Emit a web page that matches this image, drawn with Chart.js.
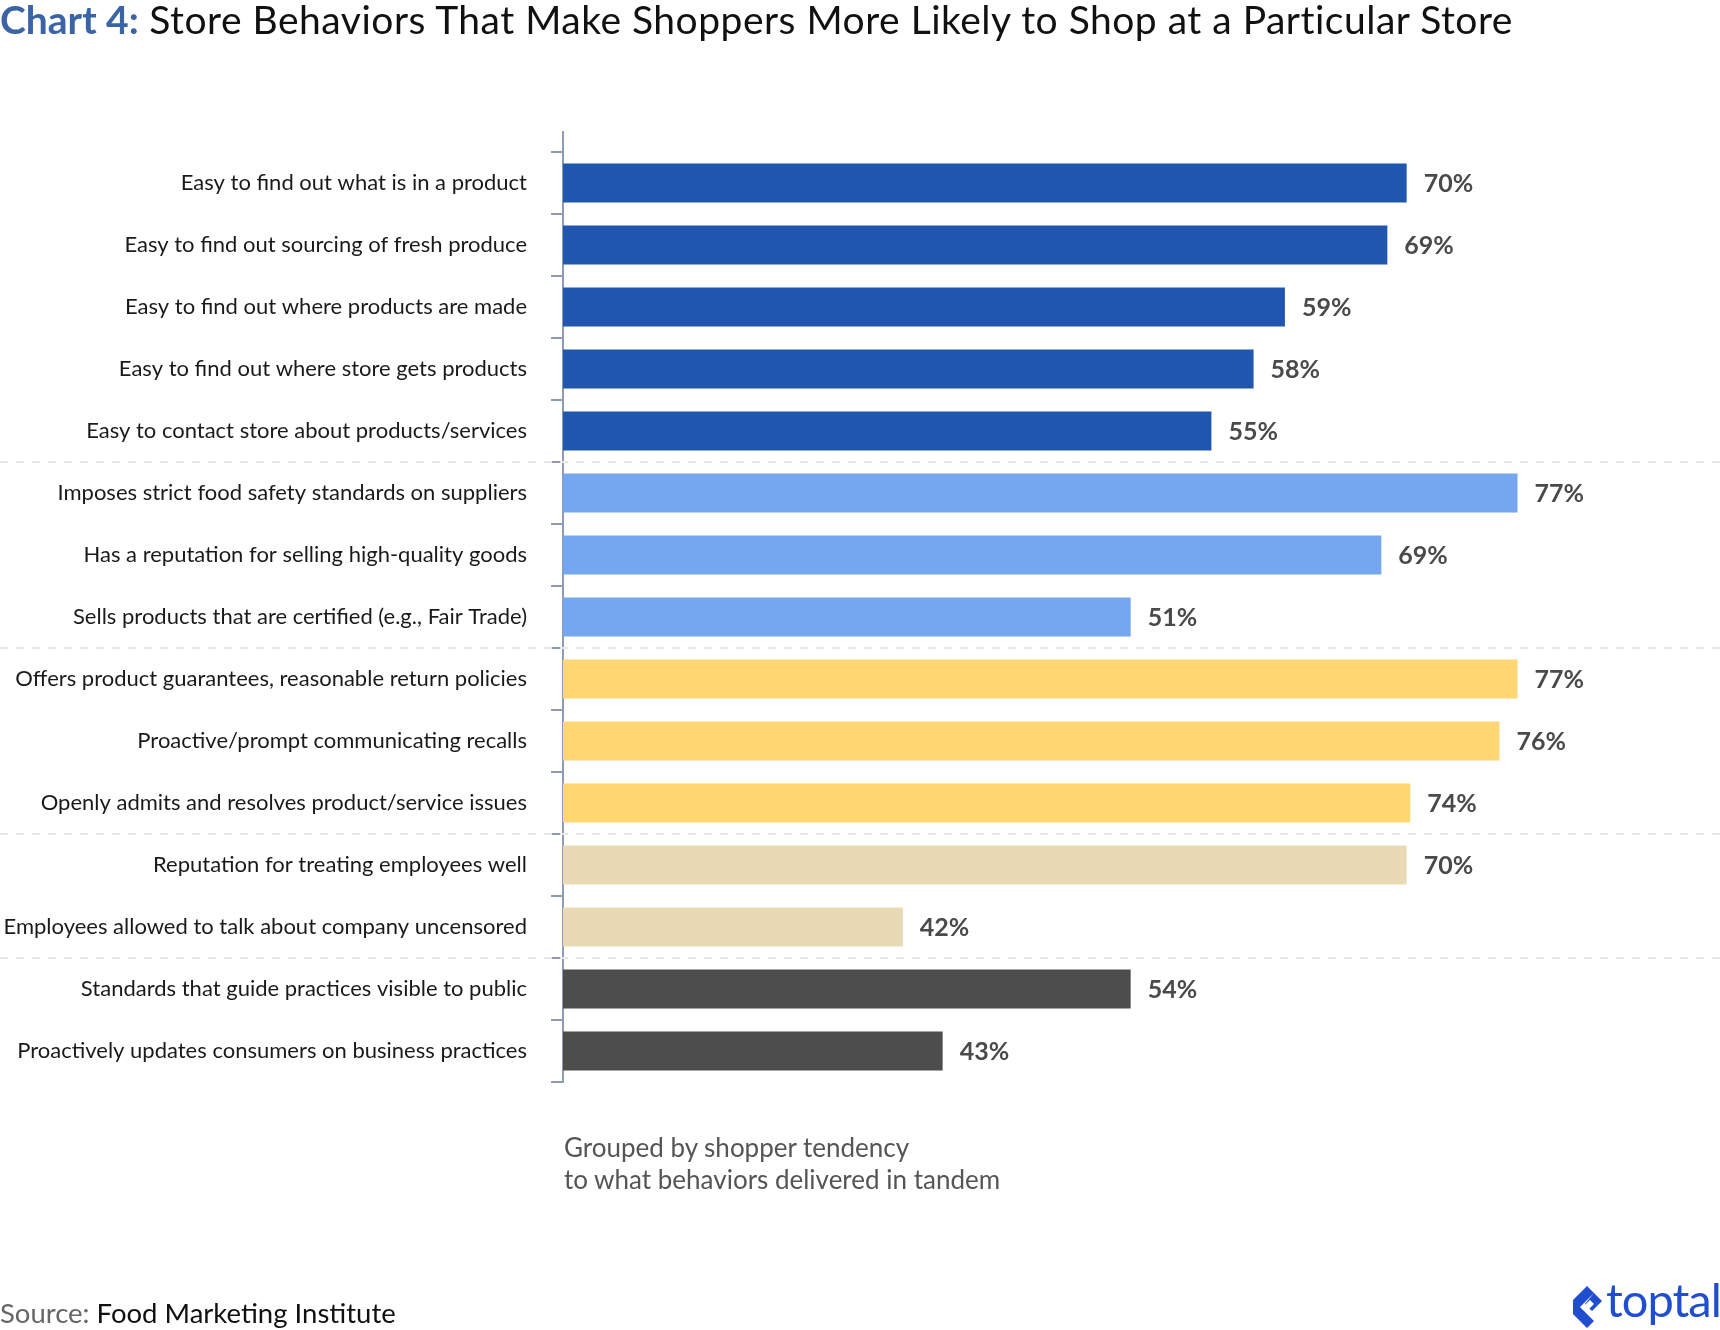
<!DOCTYPE html>
<html>
<head>
<meta charset="utf-8">
<script src="https://cdn.jsdelivr.net/npm/chart.js@4/dist/chart.umd.min.js"></script>
<style>
    body { margin: 0; background: #fff; }
    #page { position: relative; width: 1720px; height: 1330px; overflow: hidden; font-family: Lato, sans-serif; }
    #chart { position: absolute; left: 0; top: 0; }
    .title { position: absolute; left: 0; top: -3px; font-size: 39px; letter-spacing: 0.5px; color: #111; white-space: nowrap; line-height: 44px; }
    .title b { color: #3b64a6; letter-spacing: 0; }
    .note { position: absolute; left: 564px; top: 1131px; font-size: 26px; line-height: 32px; color: #555; }
    .source { position: absolute; left: 0; top: 1296px; font-size: 27.5px; color: #111; }
    .source span { color: #666; }
    .logo { position: absolute; left: 1572px; top: 1280px; height: 48px; color: #204ecf; font-size: 47px; }
    .logo svg { position: absolute; left: 0; top: 4px; }
    .logo div { position: absolute; left: 34px; top: -9px; letter-spacing: -1px; }
</style>
</head>
<body>
<div id="page">
    <canvas id="chart" width="1720" height="1330"></canvas>
    <div class="title"><b>Chart 4:</b> Store Behaviors That Make Shoppers More Likely to Shop at a Particular Store</div>
    <div class="note">Grouped by shopper tendency<br>to what behaviors delivered in tandem</div>
    <div class="source"><span>Source:</span> Food Marketing Institute</div>
    <div class="logo">
        <svg width="34" height="44" viewBox="0 0 34 44">
            <path d="M15 2 L22 9 L8 23 L22 37 L15 44 L1 30 L1 16 Z M22 9 L30 17 L20 27 L13 20 Z" fill="#204ecf"/>
            <path d="M11 23 L18 16 L22 20 L15 27 Z" fill="#fff"/>
        </svg>
        <div>toptal</div>
    </div>
</div>
<script>
// categories, top to bottom
const behaviors = [
    'Easy to find out what is in a product',
    'Easy to find out sourcing of fresh produce',
    'Easy to find out where products are made',
    'Easy to find out where store gets products',
    'Easy to contact store about products/services',
    'Imposes strict food safety standards on suppliers',
    'Has a reputation for selling high-quality goods',
    'Sells products that are certified (e.g., Fair Trade)',
    'Offers product guarantees, reasonable return policies',
    'Proactive/prompt communicating recalls',
    'Openly admits and resolves product/service issues',
    'Reputation for treating employees well',
    'Employees allowed to talk about company uncensored',
    'Standards that guide practices visible to public',
    'Proactively updates consumers on business practices'
];

// printed values
const shares = ['70%', '69%', '59%', '58%', '55%', '77%', '69%', '51%', '77%', '76%', '74%', '70%', '42%', '54%', '43%'];

// bar lengths as drawn in the source (its bars are not to scale), same units
const barLengths = [70, 68.4, 59.9, 57.3, 53.8, 79.2, 67.9, 47.1, 79.2, 77.7, 70.3, 70, 28.2, 47.1, 31.5];

// shopper tendency groups
const groupSizes = [5, 3, 3, 2, 2];
const groupColors = ['#2156b0', '#75a7f1', '#fed672', '#e9d9b5', '#4d4d4d'];

let barColors = [];
groupSizes.forEach((n, g) => {
    for (let i = 0; i < n; i++) barColors.push(groupColors[g]);
});

const axisColor = '#8e9bb3';

// dashed lines between the groups + axis line stub above the first row
const groupLines = {
    id: 'groupLines',
    beforeDatasetsDraw(chart) {
        const ctx = chart.ctx;
        const y = chart.scales.y;
        const area = chart.chartArea;
        ctx.save();
        ctx.strokeStyle = '#e6e6e6';
        ctx.lineWidth = 2;
        ctx.setLineDash([8, 8]);
        let idx = 0;
        groupSizes.slice(0, -1).forEach((n) => {
            idx += n;
            const py = Math.round((y.getPixelForValue(idx - 1) + y.getPixelForValue(idx)) / 2);
            ctx.beginPath();
            ctx.moveTo(0, py);
            ctx.lineTo(chart.width, py);
            ctx.stroke();
        });
        ctx.setLineDash([]);
        ctx.strokeStyle = axisColor;
        ctx.beginPath();
        ctx.moveTo(area.left, area.top - 21);
        ctx.lineTo(area.left, area.top);
        ctx.stroke();
        ctx.restore();
    }
};

// percentage labels right of the bars
const valueLabels = {
    id: 'valueLabels',
    afterDatasetsDraw(chart) {
        const ctx = chart.ctx;
        const meta = chart.getDatasetMeta(0);
        ctx.save();
        ctx.font = 'bold 25px Lato';
        ctx.fillStyle = '#4a4a4a';
        ctx.textBaseline = 'middle';
        meta.data.forEach((bar, i) => {
            ctx.fillText(shares[i], bar.x + 17, bar.y + 1);
        });
        ctx.restore();
    }
};

const config = {
    type: 'bar',
    data: {
        labels: behaviors,
        datasets: [{
            data: barLengths,
            backgroundColor: barColors,
            borderWidth: 0,
            categoryPercentage: 1,
            barPercentage: 0.63
        }]
    },
    options: {
        indexAxis: 'y',
        responsive: false,
        animation: false,
        layout: {
            padding: { top: 152, bottom: 248, left: 0, right: 0 }
        },
        plugins: {
            legend: { display: false },
            tooltip: { enabled: false }
        },
        scales: {
            x: {
                display: false,
                min: 0,
                max: 96
            },
            y: {
                afterFit: (scale) => { scale.width = 563; },
                border: { display: true, color: axisColor, width: 2 },
                grid: {
                    drawOnChartArea: false,
                    drawTicks: true,
                    tickLength: 12,
                    color: axisColor,
                    lineWidth: 2
                },
                ticks: {
                    padding: 24,
                    color: '#1a1a1a',
                    font: { family: 'Lato', size: 22 }
                }
            }
        }
    },
    plugins: [groupLines, valueLabels]
};

window.onload = () => {
    let ctx = document.getElementById('chart').getContext('2d');
    window.myChart = new Chart(ctx, config);
};
</script>
</body>
</html>
